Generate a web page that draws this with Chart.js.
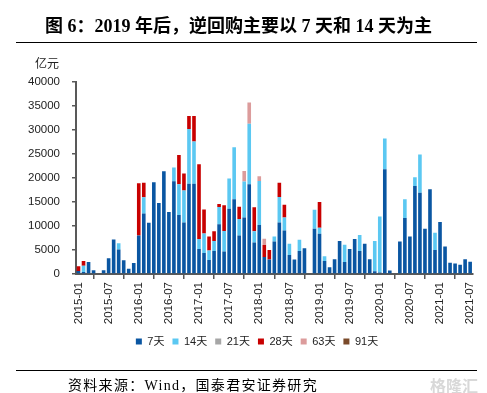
<!DOCTYPE html>
<html>
<head>
<meta charset="utf-8">
<script src="https://cdn.jsdelivr.net/npm/chart.js@4.4.1/dist/chart.umd.min.js"></script>
<style>
  body { margin: 0; background: #fff; }
  #wrap { position: relative; width: 487px; height: 393px; overflow: hidden; }
  #chart { position: absolute; left: 0; top: 0; }
  #title { position: absolute; left: 45px; top: 11px; font: bold 18px "Liberation Serif", "Noto Sans CJK SC"; color: #000; white-space: nowrap; }
  .rule { position: absolute; left: 16px; width: 461px; height: 1px; background: #000; }
  #unit { position: absolute; left: 35px; top: 54px; font: 12px "Noto Sans CJK SC"; color: #222; }
  #source { position: absolute; left: 68px; top: 374px; font: 14px "Liberation Serif", "Noto Sans CJK SC"; letter-spacing: 1.3px; color: #000; white-space: nowrap; }
  #mark { position: absolute; left: 430px; top: 373px; font: bold 16px "Noto Sans CJK SC"; color: #d8d8d8; white-space: nowrap; }
</style>
</head>
<body>
<div id="wrap">
  <canvas id="chart" width="487" height="393"></canvas>
  <div id="title">图 6：2019 年后，逆回购主要以 7 天和 14 天为主</div>
  <div class="rule" style="top:42px"></div>
  <div id="unit">亿元</div>
  <div class="rule" style="top:370px"></div>
  <div id="source">资料来源：Wind，国泰君安证券研究</div>
  <div id="mark">格隆汇</div>
</div>
<script>
// months 2015-01 .. 2021-07
var months = [
  '2015-01','2015-02','2015-03','2015-04','2015-05','2015-06','2015-07','2015-08','2015-09','2015-10','2015-11','2015-12',
  '2016-01','2016-02','2016-03','2016-04','2016-05','2016-06','2016-07','2016-08','2016-09','2016-10','2016-11','2016-12',
  '2017-01','2017-02','2017-03','2017-04','2017-05','2017-06','2017-07','2017-08','2017-09','2017-10','2017-11','2017-12',
  '2018-01','2018-02','2018-03','2018-04','2018-05','2018-06','2018-07','2018-08','2018-09','2018-10','2018-11','2018-12',
  '2019-01','2019-02','2019-03','2019-04','2019-05','2019-06','2019-07','2019-08','2019-09','2019-10','2019-11','2019-12',
  '2020-01','2020-02','2020-03','2020-04','2020-05','2020-06','2020-07','2020-08','2020-09','2020-10','2020-11','2020-12',
  '2021-01','2021-02','2021-03','2021-04','2021-05','2021-06','2021-07'
];

// 亿元, stacked pieces per tenor
var d7 = [
  600,400,2500,800,0,800,3300,7200,5100,2850,1100,2300,
  8000,12600,10700,19100,14800,21400,12900,19300,12300,10750,18800,18800,
  5200,4350,2900,4800,10350,4700,13600,15550,8000,11750,18700,6550,
  10200,3550,3000,6750,10750,9050,3950,3000,4800,5350,0,9450,
  8400,2700,1400,3050,6900,2500,5200,7300,4800,6300,3050,550,
  300,21800,750,0,6750,11650,7800,18350,16950,9450,17650,5000,
  10850,5750,2350,2200,1950,3050,2550
];
var d14 = [
  0,1300,0,0,0,0,0,0,1300,0,0,0,
  0,3400,0,0,0,0,0,2900,6400,6650,11400,8800,
  2100,4100,2000,2100,3600,4250,6300,10850,3450,7500,12600,2350,
  9150,0,0,1050,5300,2700,2350,0,2350,0,0,3950,
  1250,1000,0,0,0,3600,0,0,3300,0,0,6350,
  11700,6450,0,0,0,3900,0,1800,7950,0,0,3600,
  0,0,0,0,0,0,0
];
var d21 = [
  0,0,0,0,0,0,0,0,0,0,0,0,
  0,0,0,0,0,0,0,0,0,0,0,0,
  0,0,0,0,0,0,0,0,0,0,0,0,
  0,0,0,0,0,0,0,0,0,0,0,0,
  0,0,0,0,0,0,0,0,0,0,0,0,
  0,0,0,0,0,0,0,0,0,0,0,0,
  0,0,0,0,0,0,0
];
var d28 = [
  1000,1000,0,0,0,0,0,0,0,0,0,0,
  10900,3000,0,0,0,0,0,0,6100,3550,2700,5300,
  15550,5000,2900,2000,650,5350,0,0,2550,0,0,5000,
  0,2500,2000,0,2950,2700,0,0,0,0,0,0,
  5350,0,0,0,0,0,0,0,0,0,0,0,
  0,0,0,0,0,0,0,0,0,0,0,0,
  0,0,0,0,0,0,0
];
var d63 = [
  0,0,0,0,0,0,0,0,0,0,0,0,
  0,0,0,0,0,0,0,0,0,0,0,0,
  0,0,0,0,0,0,0,0,0,2200,4450,0,
  1000,1300,0,0,0,0,0,0,0,0,0,0,
  0,0,0,0,0,0,0,0,0,0,0,0,
  0,0,0,0,0,0,0,0,0,0,0,0,
  0,0,0,0,0,0,0
];
var d91 = d21.slice();

var seriesNames = ['7天', '14天', '21天', '28天', '63天', '91天'];
var seriesData = [d7, d14, d21, d28, d63, d91];
var seriesColors = ['#0A56A2', '#5BC8F2', '#A6A6A6', '#C80000', '#DC9C9C', '#7A4A2A'];

var yTicks = [0, 5000, 10000, 15000, 20000, 25000, 30000, 35000, 40000];

var datasets = seriesNames.map(function(name, k) {
  return {
    label: name,
    data: seriesData[k],
    backgroundColor: seriesColors[k],
    borderWidth: 0,
    barPercentage: 0.72,
    categoryPercentage: 1.0
  };
});

// legend in the original sits a bit right of the page centre
var legendShift = {
  id: 'legendShift',
  afterLayout: function(chart) {
    chart.legend.left += 8;
    chart.legend.right += 8;
  }
};

var ctx = document.getElementById('chart').getContext('2d');
var chart = new Chart(ctx, {
  type: 'bar',
  data: { labels: months, datasets: datasets },
  plugins: [legendShift],
  options: {
    responsive: false,
    animation: false,
    layout: { padding: { left: 20, right: 9, top: 82, bottom: 36 } },
    plugins: {
      legend: {
        position: 'bottom',
        labels: {
          boxWidth: 6,
          boxHeight: 6,
          padding: 8,
          color: '#222',
          font: { size: 11, family: '"Liberation Sans", "Noto Sans CJK SC"' }
        }
      },
      tooltip: { enabled: false }
    },
    scales: {
      x: {
        stacked: true,
        border: { color: '#595959', width: 2 },
        grid: { drawOnChartArea: false, tickLength: 5, color: '#595959', lineWidth: 1.5 },
        ticks: {
          autoSkip: false,
          minRotation: 90,
          maxRotation: 90,
          padding: 3,
          color: '#222',
          font: { size: 11.5, family: '"Liberation Sans"' },
          callback: function(val, i) {
            return i % 6 === 0 ? months[i] : null;
          }
        },
        afterFit: function(scale) { scale.height = 54; }
      },
      y: {
        stacked: true,
        min: 0,
        max: 40000,
        border: { color: '#595959', width: 2 },
        grid: { drawOnChartArea: false, tickLength: 4, color: '#595959', lineWidth: 1.5 },
        afterBuildTicks: function(scale) {
          scale.ticks = yTicks.map(function(v) { return { value: v }; });
        },
        ticks: {
          padding: 12,
          color: '#222',
          font: { size: 11.5, family: '"Liberation Sans"' },
          callback: function(v) { return String(v); }
        },
        afterFit: function(scale) { scale.width = 56; }
      }
    }
  }
});
</script>
</body>
</html>
